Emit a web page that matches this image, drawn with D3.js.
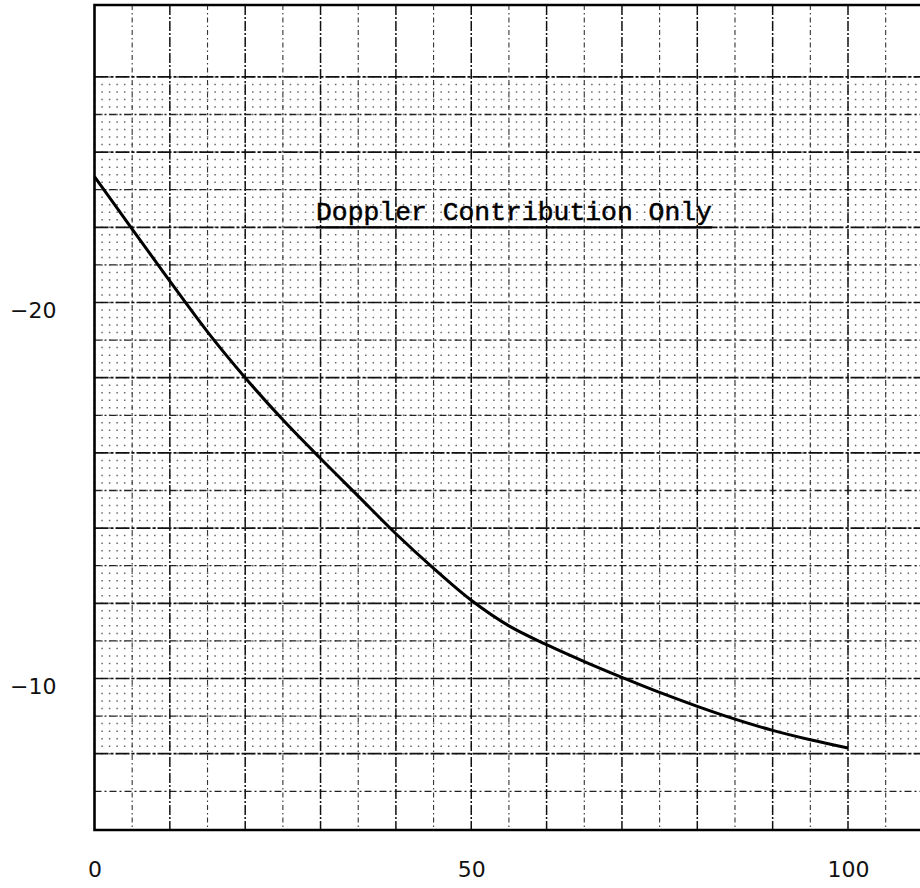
<!DOCTYPE html>
<html>
<head>
<meta charset="utf-8">
<script src="https://cdn.jsdelivr.net/npm/d3@7"></script>
<style>
  body { margin: 0; background: #fff; }
  svg { display: block; }
  .tick text { font-family: "DejaVu Sans", sans-serif; font-size: 22px; fill: #111; }
</style>
</head>
<body>
<svg id="chart" width="920" height="888"></svg>
<script>
// values
const distance = [0, 5, 10, 15, 20, 25, 30, 35, 40, 45, 50, 55, 60, 65, 70, 75, 80, 85, 90, 95, 100];
const level = [-23.35, -21.95, -20.57, -19.22, -18.0, -16.88, -15.85, -14.85, -13.85, -12.93, -12.08,
  -11.4, -10.9, -10.45, -10.03, -9.63, -9.26, -8.92, -8.62, -8.37, -8.15];
const xTicks = [0, 50, 100];
const yTicks = [-20, -10];
const title = "Doppler Contribution Only";

const svg = d3.select("#chart");
const plotTop = 5, plotBottom = 830, plotLeft = 94.5, plotRight = 925;

const x = d3.scaleLinear().domain([0, 100]).range([plotLeft, 848]);
// paper is printed with -20 above -10
const y = d3.scaleLinear().domain([-20, -10]).range([302.5, 678.5]);

const unit = x(1) - x(0);
const grid = svg.append("g");

// fine dots of the graph paper: 1 unit across, 0.2 unit down
const dotRows = d3.range(-26, -7.99, 0.2).map(v => +v.toFixed(1));
grid.selectAll("line.dots")
  .data(dotRows)
  .join("line")
  .attr("class", "dots")
  .attr("x1", x(0) - 0.7).attr("x2", plotRight)
  .attr("y1", d => y(d)).attr("y2", d => y(d))
  .attr("stroke", "#444")
  .attr("stroke-width", 1.5)
  .attr("stroke-dasharray", `1.5 ${unit - 1.5}`)
  .attr("opacity", 0.8);

// lighter lines
grid.selectAll("line.vlite")
  .data(d3.range(5, 110, 10))
  .join("line")
  .attr("class", "vlite")
  .attr("x1", d => x(d)).attr("x2", d => x(d))
  .attr("y1", plotTop).attr("y2", plotBottom)
  .attr("stroke", "#333")
  .attr("stroke-width", 1.1)
  .attr("stroke-dasharray", "5 3 1.5 3");

grid.selectAll("line.hlite")
  .data(d3.range(-25, -6, 2))
  .join("line")
  .attr("class", "hlite")
  .attr("x1", plotLeft).attr("x2", plotRight)
  .attr("y1", d => y(d)).attr("y2", d => y(d))
  .attr("stroke", "#222")
  .attr("stroke-width", 1.3)
  .attr("stroke-dasharray", "7 3 2 3");

// heavier lines
grid.selectAll("line.vmaj")
  .data(d3.range(10, 111, 10))
  .join("line")
  .attr("class", "vmaj")
  .attr("x1", d => x(d)).attr("x2", d => x(d))
  .attr("y1", plotTop).attr("y2", plotBottom)
  .attr("stroke", "#111")
  .attr("stroke-width", 1.5)
  .attr("stroke-dasharray", "10 2 2 2");

grid.selectAll("line.hmaj")
  .data(d3.range(-26, -7, 2))
  .join("line")
  .attr("class", "hmaj")
  .attr("x1", plotLeft).attr("x2", plotRight)
  .attr("y1", d => y(d)).attr("y2", d => y(d))
  .attr("stroke", "#111")
  .attr("stroke-width", 1.7)
  .attr("stroke-dasharray", "14 2 3 2");

// frame (runs off the right side)
svg.append("path")
  .attr("d", `M${plotRight},${plotTop}H${plotLeft}V${plotBottom}H${plotRight}`)
  .attr("fill", "none")
  .attr("stroke", "#000")
  .attr("stroke-width", 2.6);

// curve
svg.append("path")
  .datum(distance.map((d, i) => [d, level[i]]))
  .attr("fill", "none")
  .attr("stroke", "#000")
  .attr("stroke-width", 3)
  .attr("stroke-linejoin", "round")
  .attr("d", d3.line().x(d => x(d[0])).y(d => y(d[1])).curve(d3.curveCatmullRom.alpha(0.5)));

// typed label, underlined
const label = svg.append("text")
  .attr("x", 316).attr("y", 220)
  .attr("font-family", "'Liberation Mono', 'DejaVu Sans Mono', monospace")
  .attr("font-size", 26.4)
  .attr("fill", "#000")
  .attr("stroke", "#000")
  .attr("stroke-width", 0.5)
  .text(title);
const bb = label.node().getBBox();
svg.append("line")
  .attr("x1", bb.x).attr("x2", bb.x + bb.width)
  .attr("y1", y(-22)).attr("y2", y(-22))
  .attr("stroke", "#000")
  .attr("stroke-width", 2.2);

// axes
const yAxis = svg.append("g")
  .attr("transform", `translate(${plotLeft},0)`)
  .call(d3.axisLeft(y).tickValues(yTicks).tickSize(0).tickPadding(38));
yAxis.select(".domain").remove();
yAxis.selectAll("text").attr("dy", "0.66em");

const xAxis = svg.append("g")
  .attr("transform", `translate(0,${plotBottom})`)
  .call(d3.axisBottom(x).tickValues(xTicks).tickSize(0).tickPadding(31));
xAxis.select(".domain").remove();
</script>
</body>
</html>
